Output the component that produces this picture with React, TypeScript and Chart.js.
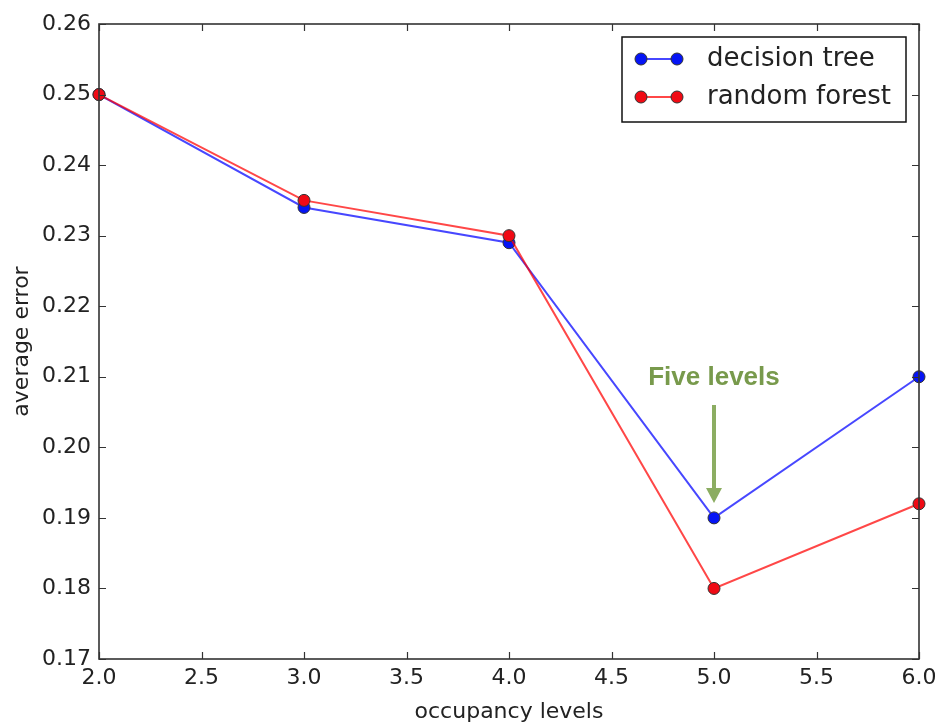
import React, { useEffect, useRef } from "react";
import { Chart, registerables } from "chart.js";

Chart.register(...registerables);

const occupancyLevels = [2, 3, 4, 5, 6];
const decisionTreeError = [0.25, 0.234, 0.229, 0.19, 0.21];
const randomForestError = [0.25, 0.235, 0.23, 0.18, 0.192];
const seriesNames = ["decision tree", "random forest"];
const xTickMin = 2.0;
const xTickMax = 6.0;
const xTickStep = 0.5;
const yTickMin = 0.17;
const yTickMax = 0.26;
const yTickStep = 0.01;
const annotationText = "Five levels";
const annotationX = 5.0;
const annotationTextY = 0.2098;
const arrowStartY = 0.206;
const arrowEndY = 0.1921;

const FRAME = "#333333";
const TEXT = "#222222";

const frameAndTicks = {
  id: "frameAndTicks",
  afterDatasetsDraw(chart: any) {
    const { ctx, chartArea: a, scales } = chart;
    const xs = scales.x;
    const ys = scales.y;
    const len = 7;
    ctx.save();
    ctx.strokeStyle = FRAME;
    ctx.lineWidth = 1.2;
    ctx.beginPath();
    xs.ticks.forEach((t: any) => {
      const px = Math.round(xs.getPixelForValue(t.value)) + 0.5;
      ctx.moveTo(px, a.bottom);
      ctx.lineTo(px, a.bottom - len);
      ctx.moveTo(px, a.top);
      ctx.lineTo(px, a.top + len);
    });
    ys.ticks.forEach((t: any) => {
      const py = Math.round(ys.getPixelForValue(t.value)) + 0.5;
      ctx.moveTo(a.left, py);
      ctx.lineTo(a.left + len, py);
      ctx.moveTo(a.right, py);
      ctx.lineTo(a.right - len, py);
    });
    ctx.stroke();
    ctx.lineWidth = 1.6;
    ctx.strokeRect(a.left, a.top, a.right - a.left, a.bottom - a.top);
    ctx.restore();
  },
};

const annotation = {
  id: "fiveLevels",
  afterDatasetsDraw(chart: any) {
    const { ctx, scales } = chart;
    const px = scales.x.getPixelForValue(annotationX);
    const ty = scales.y.getPixelForValue(annotationTextY);
    const y0 = scales.y.getPixelForValue(arrowStartY);
    const y1 = scales.y.getPixelForValue(arrowEndY);
    ctx.save();
    ctx.fillStyle = "#789a4c";
    ctx.font = "bold 26px 'Liberation Sans', Arial, sans-serif";
    ctx.textAlign = "center";
    ctx.textBaseline = "middle";
    ctx.fillText(annotationText, px, ty);
    const headLen = 15;
    ctx.strokeStyle = "#8cad62";
    ctx.fillStyle = "#8cad62";
    ctx.lineWidth = 4;
    ctx.beginPath();
    ctx.moveTo(px, y0);
    ctx.lineTo(px, y1 - headLen + 1);
    ctx.stroke();
    ctx.beginPath();
    ctx.moveTo(px - 8, y1 - headLen);
    ctx.lineTo(px + 8, y1 - headLen);
    ctx.lineTo(px, y1);
    ctx.closePath();
    ctx.fill();
    ctx.restore();
  },
};

const legendBox = {
  id: "legendBox",
  afterDatasetsDraw(chart: any) {
    const { ctx, chartArea: a } = chart;
    const w = 284;
    const h = 85;
    const left = a.right - 13 - w;
    const top = a.top + 13;
    ctx.save();
    ctx.fillStyle = "#ffffff";
    ctx.fillRect(left, top, w, h);
    ctx.strokeStyle = "#111111";
    ctx.lineWidth = 1.5;
    ctx.strokeRect(left, top, w, h);
    const rows = [22, 60];
    chart.data.datasets.forEach((ds: any, i: number) => {
      const y = top + rows[i];
      const x0 = left + 19;
      const x1 = left + 55;
      ctx.strokeStyle = ds.borderColor;
      ctx.lineWidth = 2;
      ctx.beginPath();
      ctx.moveTo(x0, y);
      ctx.lineTo(x1, y);
      ctx.stroke();
      [x0, x1].forEach((x) => {
        ctx.beginPath();
        ctx.arc(x, y, 6, 0, Math.PI * 2);
        ctx.fillStyle = ds.pointBackgroundColor;
        ctx.fill();
        ctx.strokeStyle = ds.pointBorderColor;
        ctx.lineWidth = 1;
        ctx.stroke();
      });
      ctx.fillStyle = TEXT;
      ctx.font = "26px 'DejaVu Sans'";
      ctx.textAlign = "left";
      ctx.textBaseline = "middle";
      ctx.fillText(ds.label, left + 85, y);
    });
    ctx.restore();
  },
};

export default function App() {
  const ref = useRef<HTMLCanvasElement | null>(null);
  useEffect(() => {
    if (!ref.current) return;
    const chart = new Chart(ref.current, {
      type: "line",
      data: {
        datasets: [
          {
            label: seriesNames[0],
            data: occupancyLevels.map((x, i) => ({ x, y: decisionTreeError[i] })),
            borderColor: "rgba(0,0,255,0.72)",
            borderWidth: 2,
            pointBackgroundColor: "#0514f5",
            pointBorderColor: "#333333",
            pointBorderWidth: 1,
            pointRadius: 6,
            tension: 0,
            order: 1,
          },
          {
            label: seriesNames[1],
            data: occupancyLevels.map((x, i) => ({ x, y: randomForestError[i] })),
            borderColor: "rgba(255,0,0,0.72)",
            borderWidth: 2,
            pointBackgroundColor: "#f00a14",
            pointBorderColor: "#333333",
            pointBorderWidth: 1,
            pointRadius: 6,
            tension: 0,
            order: 0,
          },
        ],
      },
      options: {
        responsive: false,
        animation: false,
        clip: false as any,
        layout: { padding: { left: 0, top: 24, right: 19, bottom: 0 } },
        plugins: {
          legend: { display: false },
          tooltip: { enabled: false },
        },
        scales: {
          x: {
            type: "linear",
            min: xTickMin,
            max: xTickMax,
            grid: { display: false, drawTicks: false },
            border: { display: false },
            ticks: {
              stepSize: xTickStep,
              color: TEXT,
              font: { family: "'DejaVu Sans'", size: 22 },
              padding: 6,
              maxRotation: 0,
              autoSkip: false,
              callback: (v: any) => Number(v).toFixed(1),
            },
            title: {
              display: true,
              text: "occupancy levels",
              color: TEXT,
              font: { family: "'DejaVu Sans'", size: 22 },
              padding: { top: 0, bottom: 0 },
            },
            afterFit: (s: any) => {
              s.height = 66;
              s.paddingLeft = 0;
              s.paddingRight = 0;
            },
          },
          y: {
            type: "linear",
            min: yTickMin,
            max: yTickMax,
            grid: { display: false, drawTicks: false },
            border: { display: false },
            ticks: {
              stepSize: yTickStep,
              color: TEXT,
              font: { family: "'DejaVu Sans'", size: 22 },
              padding: 8,
              autoSkip: false,
              callback: (v: any) => Number(v).toFixed(2),
            },
            title: {
              display: true,
              text: "average error",
              color: TEXT,
              font: { family: "'DejaVu Sans'", size: 22 },
              padding: { top: 9, bottom: 0 },
            },
            afterFit: (s: any) => {
              s.width = 99;
              s.paddingTop = 0;
              s.paddingBottom = 0;
            },
          },
        },
      },
      plugins: [frameAndTicks, annotation, legendBox],
    });
    return () => chart.destroy();
  }, []);
  return (
    <div style={{ position: "absolute", left: 0, top: 0, width: 938, height: 725, background: "#fff" }}>
      <canvas ref={ref} width={938} height={725} style={{ display: "block" }} />
    </div>
  );
}
